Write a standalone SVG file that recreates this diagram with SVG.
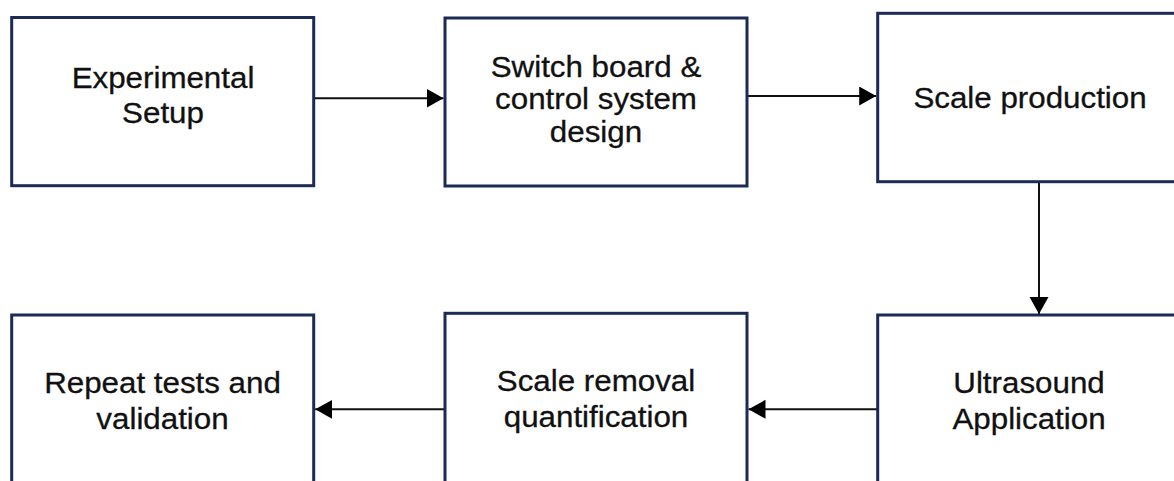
<svg xmlns="http://www.w3.org/2000/svg" width="1174" height="481" viewBox="0 0 1174 481">
  <style>
    .box { fill: #ffffff; stroke: #1b2b55; stroke-width: 3; }
    .label { font-family: "Liberation Sans", Arial, sans-serif; font-size: 29px; fill: #111111; stroke: #111111; stroke-width: 0.3; text-anchor: middle; }
    .wire { stroke: #111111; stroke-width: 2; fill: none; marker-end: url(#head); }
  </style>
  <defs>
    <marker id="head" markerUnits="userSpaceOnUse" markerWidth="18" markerHeight="20" refX="17" refY="9.5" orient="auto">
      <path d="M0,0 L17,9.5 L0,19 Z" fill="#000000"/>
    </marker>
  </defs>
  <rect width="1174" height="481" fill="#ffffff"/>

  <g id="connectors">
    <line class="wire" x1="314" y1="98.3" x2="443.5" y2="98.3"/>
    <line class="wire" x1="747" y1="96" x2="876.2" y2="96"/>
    <line class="wire" x1="1039" y1="182" x2="1039" y2="314"/>
    <line class="wire" x1="877" y1="409.3" x2="748.5" y2="409.3"/>
    <line class="wire" x1="445" y1="409.3" x2="315.2" y2="409.3"/>
  </g>

  <g id="experimental-setup">
    <rect class="box" x="11.7" y="17.5" width="302" height="168.2"/>
    <g transform="translate(163,0) scale(1.08,1)">
      <text class="label" x="0" y="88.5">Experimental</text>
      <text class="label" x="0" y="123.5">Setup</text>
    </g>
  </g>

  <g id="switch-board-design">
    <rect class="box" x="445" y="18" width="302" height="168"/>
    <g transform="translate(596,0) scale(1.08,1)">
      <text class="label" x="0" y="77">Switch board &amp;</text>
      <text class="label" x="0" y="109.5">control system</text>
      <text class="label" x="0" y="142">design</text>
    </g>
  </g>

  <g id="scale-production">
    <rect class="box" x="877.7" y="13.3" width="310" height="168.4"/>
    <g transform="translate(1030,0) scale(1.08,1)">
      <text class="label" x="0" y="108.5">Scale production</text>
    </g>
  </g>

  <g id="ultrasound-application">
    <rect class="box" x="877.7" y="315" width="310" height="180"/>
    <g transform="translate(1029,0) scale(1.08,1)">
      <text class="label" x="0" y="393.5">Ultrasound</text>
      <text class="label" x="0" y="429.5">Application</text>
    </g>
  </g>

  <g id="scale-removal-quantification">
    <rect class="box" x="445" y="313.3" width="302" height="180"/>
    <g transform="translate(596,0) scale(1.08,1)">
      <text class="label" x="0" y="391">Scale removal</text>
      <text class="label" x="0" y="427">quantification</text>
    </g>
  </g>

  <g id="repeat-tests-validation">
    <rect class="box" x="11.7" y="315" width="302" height="180"/>
    <g transform="translate(162.5,0) scale(1.08,1)">
      <text class="label" x="0" y="393.5">Repeat tests and</text>
      <text class="label" x="0" y="429.5">validation</text>
    </g>
  </g>
</svg>
